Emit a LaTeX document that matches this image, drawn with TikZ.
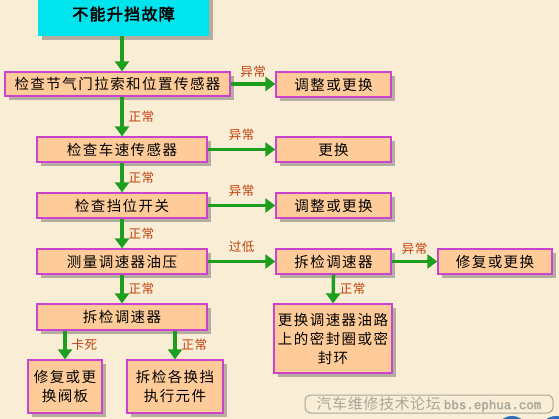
\documentclass[tikz,border=0pt]{standalone}
\usepackage{fontspec}
\newfontfamily\cjk[LetterSpace=10]{Noto Sans CJK SC}
\newfontfamily\cjkb[FakeBold=3,LetterSpace=8]{Noto Sans CJK SC}
\newfontfamily\cjkl[LetterSpace=4]{Noto Sans CJK SC}
\newfontfamily\wmmono[FakeBold=2]{Liberation Mono}
\usetikzlibrary{arrows.meta,shadows}
\definecolor{bgc}{HTML}{F9EDD6}
\definecolor{boxfill}{HTML}{FFCC99}
\definecolor{boxline}{HTML}{CC44CC}
\definecolor{titlefill}{HTML}{00E4EE}
\definecolor{arrgreen}{HTML}{1E9E1E}
\definecolor{lblred}{HTML}{C0400C}
\definecolor{wmgray}{HTML}{A8A89C}
\definecolor{ballblue}{HTML}{2A6FB8}
\begin{document}
\begin{tikzpicture}[x=1pt,y=-1pt,
  box/.style={draw=boxline, line width=1.3pt, fill=boxfill,
    drop shadow={shadow xshift=4pt, shadow yshift=-4pt, fill=gray!75!black, opacity=0.45},
    inner sep=0pt, align=center, font=\cjk\fontsize{14.5}{19}\selectfont},
  titlebox/.style={fill=titlefill, inner sep=0pt,
    drop shadow={shadow xshift=4pt, shadow yshift=-4pt, fill=gray!75!black, opacity=0.45},
    font=\cjkb\fontsize{16}{20}\selectfont},
  arr/.style={draw=arrgreen, line width=3.4pt, -{Triangle[length=10pt,width=14pt]}},
  lbl/.style={text=lblred, font=\cjkl\fontsize{12.5}{14}\selectfont, inner sep=1pt}
]
\fill[bgc] (0,0) rectangle (559,419);
\clip (0,0) rectangle (559,419);
\useasboundingbox (0,0) rectangle (559,419);

% nodes
\node[titlebox, minimum width=171pt, minimum height=44pt] (title) at (123.5,14) {不能升挡故障};
\node[box, minimum width=225pt, minimum height=24pt] (b1) at (117.5,84) {检查节气门拉索和位置传感器};
\node[box, minimum width=115pt, minimum height=25pt] (r1) at (333.5,84.5) {调整或更换};
\node[box, minimum width=170pt, minimum height=25pt] (b2) at (122,149.5) {检查车速传感器};
\node[box, minimum width=115pt, minimum height=25pt] (r2) at (333.5,149.5) {更换};
\node[box, minimum width=170pt, minimum height=25pt] (b3) at (122,205.5) {检查挡位开关};
\node[box, minimum width=115pt, minimum height=25pt] (r3) at (333.5,205.5) {调整或更换};
\node[box, minimum width=170pt, minimum height=25pt] (b4) at (122,261.5) {测量调速器油压};
\node[box, minimum width=115pt, minimum height=25pt] (r4) at (333.5,261.5) {拆检调速器};
\node[box, minimum width=114pt, minimum height=25pt] (r4b) at (495,261.5) {修复或更换};
\node[box, minimum width=170pt, minimum height=26pt] (b5) at (122,317) {拆检调速器};
\node[box, minimum width=74pt, minimum height=53pt] (bl) at (65,386.5) {修复或更\\换阀板};
\node[box, minimum width=96pt, minimum height=53pt] (bm) at (175,386.5) {拆检各换挡\\执行元件};
\node[box, minimum width=118pt, minimum height=69pt] (rb) at (333,338.5) {更换调速器油路\\上的密封圈或密\\封环};

% vertical connectors
\draw[arr] (title.south -| b2) -- (b1.north -| b2);
\draw[arr] (b1.south -| b2) -- node[lbl, right=4pt]{正常} (b2.north);
\draw[arr] (b2.south) -- node[lbl, right=4pt]{正常} (b3.north);
\draw[arr] (b3.south) -- node[lbl, right=4pt]{正常} (b4.north);
\draw[arr] (b4.south) -- node[lbl, right=4pt]{正常} (b5.north);
\draw[arr] (b5.south -| bl) -- node[lbl, right=4pt]{卡死} (bl.north);
\draw[arr] (b5.south -| bm) -- node[lbl, right=4pt]{正常} (bm.north);
\draw[arr] (r4.south) -- node[lbl, right=4pt]{正常} (rb.north);

% horizontal connectors
\draw[arr] (b1.east) -- node[lbl, above=4pt]{异常} (r1.west |- b1.east);
\draw[arr] (b2.east) -- node[lbl, above=6pt]{异常} (r2.west);
\draw[arr] (b3.east) -- node[lbl, above=6pt]{异常} (r3.west);
\draw[arr] (b4.east) -- node[lbl, above=6pt]{过低} (r4.west);
\draw[arr] (r4.east) -- node[lbl, above=4pt]{异常} (r4b.west);

% watermark
\node[draw=wmgray, line width=1pt, rounded corners=6pt, minimum width=248pt, minimum height=18pt, inner sep=0pt, text=wmgray] (wm) at (429,404)
  {{\cjkl\fontsize{15}{16}\selectfont 汽车维修技术论坛}\hspace{3pt}{\wmmono\fontsize{12.5}{16}\selectfont bbs.ephua.com}};
\fill[ballblue] (512,432) circle (16pt);
\fill[ballblue] (556,432) circle (16pt);
\end{tikzpicture}
\end{document}
